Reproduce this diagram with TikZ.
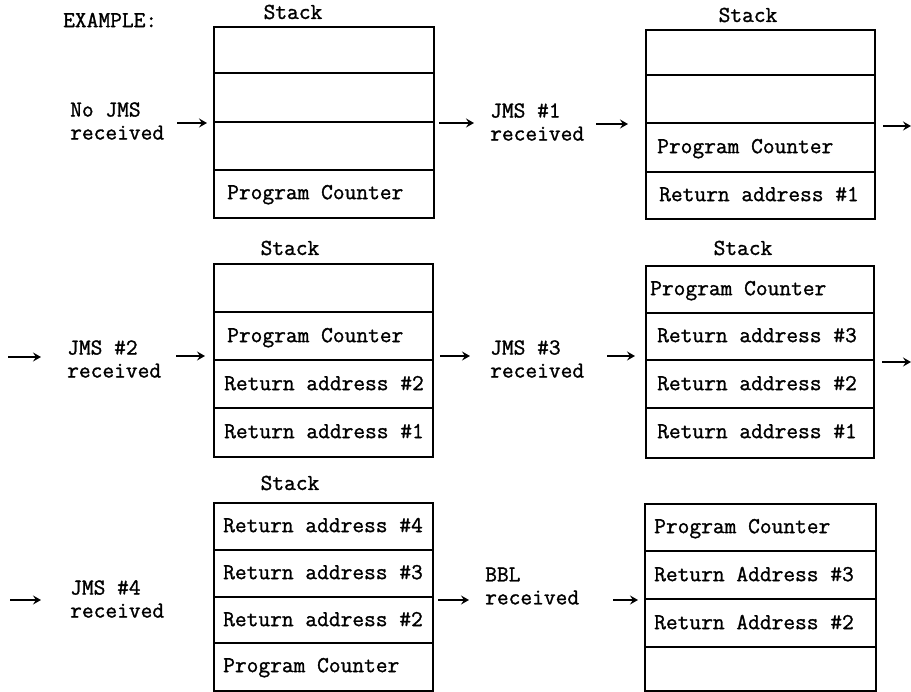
\documentclass[tikz,border=0pt]{standalone}
\usepackage{fontspec}
\newfontfamily\mono[FakeBold=1.2]{Latin Modern Mono}
\usetikzlibrary{arrows.meta}
\begin{document}
\begin{tikzpicture}[x=1pt,y=-1pt,
  txt/.style={font=\mono\fontsize{22.8}{23}\selectfont, inner sep=0pt},
  celltxt/.style={txt, anchor=mid west},
  lbl/.style={txt, align=left, anchor=west},
  stk/.style={txt, anchor=center},
  box/.style={draw, line width=1.6pt, inner sep=0pt, anchor=north west},
  div/.style={line width=1.4pt},
  arr/.style={line width=1.5pt, -{Stealth[length=8pt,width=9pt,inset=3pt]}},
]
\useasboundingbox (0,0) rectangle (911,692);

\node[txt, anchor=west] (ex) at (63,20) {EXAMPLE:};

% ---------- Stack 1 ----------
\node[stk] (t1) at (293,12) {Stack};
\node[box, minimum width=220pt, minimum height=191pt] (s1) at (213,26) {};
\draw[div] (213,73) -- (433,73);
\draw[div] (213,122) -- (433,122);
\draw[div] (213,170) -- (433,170);
\node[celltxt] (c1a) at (227,197) {Program Counter};

% ---------- Stack 2 ----------
\node[stk] (t2) at (748,15) {Stack};
\node[box, minimum width=229pt, minimum height=189pt] (s2) at (645,29) {};
\draw[div] (645,75) -- (874,75);
\draw[div] (645,123) -- (874,123);
\draw[div] (645,172) -- (874,172);
\node[celltxt] (c2a) at (657,151) {Program Counter};
\node[celltxt] (c2b) at (659,199) {Return address \#1};

% ---------- Stack 3 ----------
\node[stk] (t3) at (290,248) {Stack};
\node[box, minimum width=219pt, minimum height=193pt] (s3) at (213,263) {};
\draw[div] (213,312) -- (432,312);
\draw[div] (213,360) -- (432,360);
\draw[div] (213,408) -- (432,408);
\node[celltxt] (c3a) at (227,340) {Program Counter};
\node[celltxt] (c3b) at (224,388) {Return address \#2};
\node[celltxt] (c3c) at (224,436) {Return address \#1};

% ---------- Stack 4 ----------
\node[stk] (t4) at (743,248) {Stack};
\node[box, minimum width=228pt, minimum height=192pt] (s4) at (645,265) {};
\draw[div] (645,313) -- (873,313);
\draw[div] (645,360) -- (873,360);
\draw[div] (645,408) -- (873,408);
\node[celltxt] (c4a) at (650,293) {Program Counter};
\node[celltxt] (c4b) at (657,340) {Return address \#3};
\node[celltxt] (c4c) at (657,388) {Return address \#2};
\node[celltxt] (c4d) at (657,436) {Return address \#1};

% ---------- Stack 5 ----------
\node[stk] (t5) at (290,483) {Stack};
\node[box, minimum width=219pt, minimum height=188pt] (s5) at (213,502) {};
\draw[div] (213,550) -- (432,550);
\draw[div] (213,597) -- (432,597);
\draw[div] (213,643) -- (432,643);
\node[celltxt] (c5a) at (223,530) {Return address \#4};
\node[celltxt] (c5b) at (223,577) {Return address \#3};
\node[celltxt] (c5c) at (223,624) {Return address \#2};
\node[celltxt] (c5d) at (223,670) {Program Counter};

% ---------- Stack 6 ----------
\node[box, minimum width=231pt, minimum height=187pt] (s6) at (644,503) {};
\draw[div] (644,551) -- (875,551);
\draw[div] (644,599) -- (875,599);
\draw[div] (644,647) -- (875,647);
\node[celltxt] (c6a) at (654,531) {Program Counter};
\node[celltxt] (c6b) at (654,579) {Return Address \#3};
\node[celltxt] (c6c) at (654,627) {Return Address \#2};

% ---------- Labels ----------
\node[lbl] (l1) at (70,121) {No JMS\\received};
\node[lbl] (l2) at (490,122) {JMS \#1\\received};
\node[lbl] (l3) at (67,359) {JMS \#2\\received};
\node[lbl] (l4) at (490,359) {JMS \#3\\received};
\node[lbl] (l5) at (70,599) {JMS \#4\\received};
\node[lbl] (l6) at (485,586) {BBL\\received};

% ---------- Arrows ----------
\coordinate (a1s) at (177,123); \coordinate (a1e) at (207,123);
\coordinate (a2s) at (439,123); \coordinate (a2e) at (474,123);
\coordinate (a3s) at (596,124); \coordinate (a3e) at (628,124);
\coordinate (a4s) at (883,126); \coordinate (a4e) at (911,126);
\coordinate (a5s) at (8,357);   \coordinate (a5e) at (41,357);
\coordinate (a6s) at (176,356); \coordinate (a6e) at (205,356);
\coordinate (a7s) at (440,356); \coordinate (a7e) at (470,356);
\coordinate (a8s) at (607,356); \coordinate (a8e) at (635,356);
\coordinate (a9s) at (882,362); \coordinate (a9e) at (911,362);
\coordinate (b1s) at (10,600);  \coordinate (b1e) at (41,600);
\coordinate (b2s) at (438,600); \coordinate (b2e) at (469,600);
\coordinate (b3s) at (613,600); \coordinate (b3e) at (638,600);
\foreach \p in {a1,a2,a3,a4,a5,a6,a7,a8,a9,b1,b2,b3}
  \draw[arr] (\p s) -- (\p e);
\end{tikzpicture}
\end{document}
